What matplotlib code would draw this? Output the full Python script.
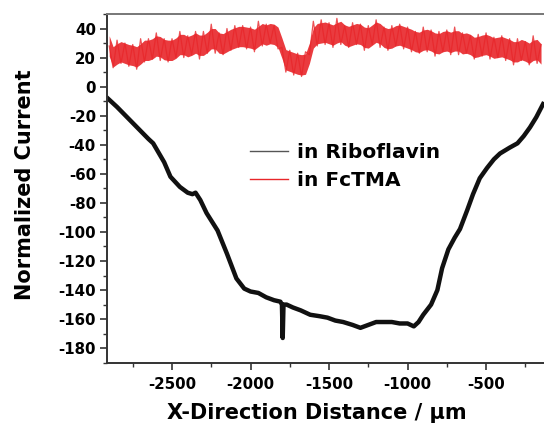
import numpy as np
import pandas as pd
import matplotlib.pyplot as plt
from matplotlib.ticker import MultipleLocator

plt.rcParams['font.family'] = 'DejaVu Sans'
plt.rcParams['font.weight'] = 'bold'
plt.rcParams['axes.unicode_minus'] = False

# Riboflavin trace (black)
ribo_x = [-2910, -2850, -2750, -2650, -2620, -2550, -2510, -2450, -2400, -2370,
          -2350, -2320, -2280, -2210, -2150, -2090, -2040, -2000, -1950, -1900,
          -1850, -1810, -1800, -1795, -1790, -1770, -1730, -1680, -1620, -1560,
          -1510, -1460, -1410, -1350, -1300, -1250, -1200, -1150, -1100, -1050,
          -1000, -960, -930, -900, -850, -810, -780, -740, -700, -666,
          -620, -583, -540, -494, -450, -411, -350, -300, -260, -220,
          -180, -137]
ribo_y = [-8, -14, -25, -36, -39, -52, -62, -69, -73, -74,
          -73, -78, -87, -99, -115, -132, -139, -141, -142, -145,
          -147, -148, -150, -173, -150, -150, -152, -154, -157, -158,
          -159, -161, -162, -164, -166, -164, -162, -162, -162, -163,
          -163, -165, -162, -157, -150, -140, -125, -112, -104, -98,
          -85, -74, -63, -56, -50, -46, -42, -39, -34, -28,
          -21, -12]

# FcTMA trace (red), sampled every 25 um from -2900 to -150
fc_x = np.arange(-2900, -149, 25)
fc_y = [28, 13, 32, 16, 30, 14, 29, 12, 33, 17,
        33, 19, 37, 18, 33, 17, 33, 20, 38, 20,
        35, 22, 38, 19, 38, 23, 43, 23, 37, 22,
        40, 25, 42, 27, 42, 26, 41, 24, 45, 28,
        43, 30, 42, 26, 27, 10, 25, 8, 23, 7,
        24, 22, 45, 28, 46, 29, 44, 27, 47, 29,
        42, 27, 44, 29, 43, 25, 42, 29, 46, 27,
        41, 25, 42, 28, 43, 26, 41, 24, 38, 23,
        41, 24, 39, 21, 38, 24, 39, 22, 41, 22,
        37, 23, 35, 19, 36, 21, 37, 19, 34, 20,
        35, 18, 33, 15, 33, 18, 31, 15, 35, 16,
        29]

red = '#e8262a'

fig = plt.figure(figsize=(5.44, 4.30), dpi=100)
ax = fig.add_axes([107/544, 67.3/430, 1 - 107/544, (362.7 - 14)/430])

# solid core of the noisy red band, then the spiky trace on top
core = pd.Series(fc_y, index=fc_x).rolling(2, min_periods=1).mean()
ax.fill_between(fc_x, core - 7, core + 7, color=red, alpha=0.9, lw=0)
ax.plot(fc_x, fc_y, color=red, lw=0.9, alpha=0.8)
ax.plot(ribo_x, ribo_y, color='#111111', lw=3.2, solid_joinstyle='round')

# legend handles are thin lines
l1, = ax.plot([], [], color='#555555', lw=1.0)
l2, = ax.plot([], [], color=red, lw=1.0)
ax.legend([l1, l2], ['in Riboflavin', 'in FcTMA'], frameon=False,
          loc='center left', bbox_to_anchor=(250/544, 1 - 166.5/430),
          bbox_transform=fig.transFigure, borderpad=0, borderaxespad=0,
          handlelength=1.9, handletextpad=0.45, labelspacing=0.45,
          prop={'size': 14.5, 'weight': 'bold'})

ax.set_xlim(-2914, -131)
ax.set_ylim(-190, 50)
ax.xaxis.set_major_locator(MultipleLocator(500))
ax.xaxis.set_minor_locator(MultipleLocator(250))
ax.yaxis.set_major_locator(MultipleLocator(20))
ax.yaxis.set_minor_locator(MultipleLocator(10))

ax.spines['right'].set_visible(False)
for s in ['left', 'bottom', 'top']:
    ax.spines[s].set_linewidth(1.4)
    ax.spines[s].set_color('#333333')
ax.spines['top'].set_color('#777777')

ax.tick_params(which='major', direction='out', length=5, width=1.2, pad=3,
               labelsize=10.8, color='#333333')
ax.tick_params(which='minor', direction='out', length=3, width=1.0, color='#333333')
ax.tick_params(axis='x', which='major', pad=5)
ax.tick_params(top=False, right=False, which='both')

ax.set_xlabel('X-Direction Distance / μm', fontsize=15, fontweight='bold')
ax.set_ylabel('Normalized Current', fontsize=15, fontweight='bold')
ax.xaxis.set_label_coords(0.48, -0.116)
ax.yaxis.set_label_coords(-0.165, 0.51)

fig.savefig('out.png', dpi=100)
